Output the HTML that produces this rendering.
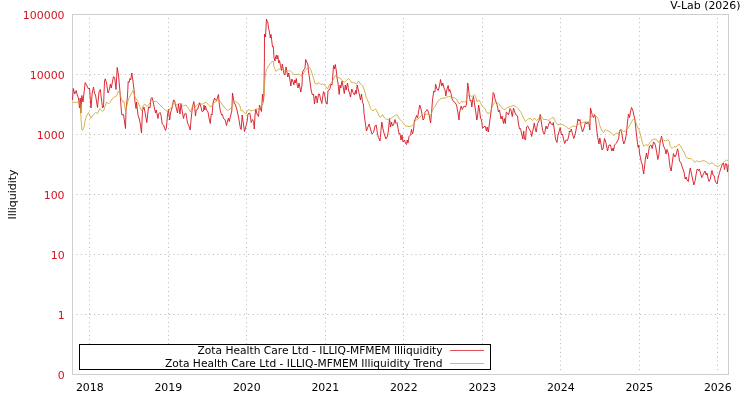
<!DOCTYPE html>
<html lang="en"><head><meta charset="utf-8"><title>V-Lab Illiquidity</title>
<style>
html,body{margin:0;padding:0;background:#fff;}
svg{display:block;}
text{font-family:"DejaVu Sans","Liberation Sans",sans-serif;font-size:10.95px;}
</style></head><body>
<svg width="750" height="400" viewBox="0 0 750 400">
<rect width="750" height="400" fill="#fff"/>
<g stroke="#b5b5b5" stroke-width="1" fill="none">
<line x1="89.5" y1="370.1" x2="89.5" y2="338.5" stroke-dasharray="1 3.31"/>
<line x1="89.5" y1="336.06" x2="89.5" y2="14.5" stroke-dasharray="1 3.405"/>
<line x1="168.5" y1="370.1" x2="168.5" y2="338.5" stroke-dasharray="1 3.31"/>
<line x1="168.5" y1="336.06" x2="168.5" y2="14.5" stroke-dasharray="1 3.405"/>
<line x1="246.5" y1="370.1" x2="246.5" y2="338.5" stroke-dasharray="1 3.31"/>
<line x1="246.5" y1="336.06" x2="246.5" y2="14.5" stroke-dasharray="1 3.405"/>
<line x1="325.5" y1="370.1" x2="325.5" y2="338.5" stroke-dasharray="1 3.31"/>
<line x1="325.5" y1="336.06" x2="325.5" y2="14.5" stroke-dasharray="1 3.405"/>
<line x1="403.5" y1="370.1" x2="403.5" y2="338.5" stroke-dasharray="1 3.31"/>
<line x1="403.5" y1="336.06" x2="403.5" y2="14.5" stroke-dasharray="1 3.405"/>
<line x1="482.5" y1="370.1" x2="482.5" y2="338.5" stroke-dasharray="1 3.31"/>
<line x1="482.5" y1="336.06" x2="482.5" y2="14.5" stroke-dasharray="1 3.405"/>
<line x1="560.5" y1="370.1" x2="560.5" y2="338.5" stroke-dasharray="1 3.31"/>
<line x1="560.5" y1="336.06" x2="560.5" y2="14.5" stroke-dasharray="1 3.405"/>
<line x1="639.5" y1="370.1" x2="639.5" y2="338.5" stroke-dasharray="1 3.31"/>
<line x1="639.5" y1="336.06" x2="639.5" y2="14.5" stroke-dasharray="1 3.405"/>
<line x1="717.5" y1="370.1" x2="717.5" y2="338.5" stroke-dasharray="1 3.31"/>
<line x1="717.5" y1="336.06" x2="717.5" y2="14.5" stroke-dasharray="1 3.405"/>
<line x1="72.1" y1="74.5" x2="728.5" y2="74.5" stroke-dasharray="1 3.403"/>
<line x1="72.1" y1="134.5" x2="728.5" y2="134.5" stroke-dasharray="1 3.403"/>
<line x1="72.1" y1="194.5" x2="728.5" y2="194.5" stroke-dasharray="1 3.403"/>
<line x1="72.1" y1="254.5" x2="728.5" y2="254.5" stroke-dasharray="1 3.403"/>
<line x1="72.1" y1="314.5" x2="728.5" y2="314.5" stroke-dasharray="1 3.403"/>
</g>
<rect x="72.5" y="14.5" width="656.0" height="360.0" fill="none" stroke="#cecece" stroke-width="1"/>
<polyline points="72.5,100.0 73.3,88.5 74.7,94.0 76.2,90.5 77.5,96.0 78.5,98.0 79.5,108.0 80.2,98.0 80.8,113.0 81.8,95.5 83.0,102.0 85.2,82.5 87.0,86.0 88.5,89.0 89.5,88.0 91.0,108.0 92.2,93.0 93.5,87.0 94.5,93.0 95.5,95.0 97.5,107.5 99.0,92.0 100.3,89.5 102.5,108.0 103.5,107.0 104.5,81.0 105.3,78.8 106.5,83.0 108.0,93.0 109.5,89.0 110.4,84.0 111.2,88.0 113.5,76.5 114.7,78.0 116.0,89.5 117.2,67.5 118.5,75.0 120.0,92.0 121.5,113.0 122.0,115.0 123.5,114.5 125.5,128.5 126.0,110.0 127.5,96.0 128.2,81.5 129.0,82.5 130.0,78.5 130.7,80.0 131.8,73.0 132.8,80.0 134.0,89.5 135.0,102.0 136.0,108.5 136.5,102.0 138.0,115.0 139.0,118.0 140.0,122.0 141.5,133.0 142.5,110.5 144.0,107.0 145.5,115.0 146.8,122.5 148.5,107.0 150.0,108.0 150.8,99.0 152.0,97.5 153.0,101.0 154.0,106.0 155.5,113.0 156.2,110.0 158.0,118.5 158.5,114.0 160.0,112.5 161.0,115.0 162.2,124.0 163.5,125.0 165.5,130.5 166.5,127.0 167.5,115.0 168.5,109.0 169.0,115.0 169.7,120.0 170.5,113.0 172.0,108.0 173.5,100.0 174.5,100.5 175.5,105.0 177.5,113.0 178.5,104.0 180.0,114.0 181.0,103.5 182.0,110.0 183.5,118.5 184.5,114.0 186.0,113.5 187.5,123.0 189.0,126.0 190.2,130.0 191.2,118.0 192.5,107.0 193.8,101.5 194.5,106.0 195.5,116.0 196.2,110.0 197.5,109.5 199.0,105.0 199.7,103.0 201.0,107.0 202.0,111.5 203.5,111.0 204.0,105.0 204.8,110.0 205.5,106.0 206.5,110.0 208.0,112.0 209.0,118.0 210.3,123.5 211.2,114.0 212.0,115.0 213.0,103.0 214.5,98.0 215.5,100.0 216.5,100.5 218.5,94.5 219.2,103.0 220.0,109.0 221.5,115.0 222.5,114.5 223.5,118.5 225.0,119.5 226.5,125.5 227.5,121.0 228.5,118.0 229.3,121.5 230.5,116.0 231.8,111.0 232.5,93.0 234.0,102.0 235.5,105.0 237.0,110.0 238.5,117.0 239.5,123.0 240.5,129.0 241.2,129.5 242.2,115.0 243.0,121.0 244.5,131.5 245.5,128.0 247.0,122.0 248.0,114.0 249.0,113.0 250.0,113.5 251.2,122.5 252.5,119.5 253.5,121.5 254.3,129.0 255.0,115.0 255.8,109.0 257.0,114.0 258.5,116.5 259.5,105.0 260.5,109.0 261.5,111.5 262.5,94.0 263.3,102.0 263.9,95.0 264.4,60.0 264.5,34.0 265.5,37.0 266.0,27.0 266.5,19.0 267.2,21.5 267.8,22.0 268.5,28.0 269.5,32.0 270.3,38.0 271.0,34.5 271.8,41.0 272.5,47.0 273.3,46.5 273.7,52.0 274.0,58.0 275.0,61.0 275.7,56.5 276.5,55.0 277.0,59.0 277.8,55.5 278.8,63.0 279.5,60.5 280.5,65.5 281.5,70.5 282.3,64.0 283.0,68.0 284.0,74.0 285.0,75.0 286.0,67.0 286.8,71.0 287.8,77.0 288.8,73.0 289.8,79.0 290.8,86.0 291.8,79.0 292.8,81.0 293.8,85.0 294.8,80.0 295.5,83.0 296.3,78.5 297.0,84.0 298.0,88.0 299.0,83.0 300.8,92.0 302.0,85.0 302.5,72.0 304.0,69.5 305.0,68.0 305.7,59.5 306.8,62.0 308.0,65.0 308.5,72.0 309.5,78.0 310.5,86.0 311.5,92.0 312.5,95.0 313.5,94.0 314.5,104.0 315.5,96.0 316.5,96.5 317.2,103.0 318.5,94.0 319.5,94.0 320.5,99.0 321.8,103.5 323.5,91.5 324.5,94.0 325.5,100.0 326.5,104.0 327.2,104.0 328.0,90.5 329.2,90.0 330.0,88.5 331.0,84.0 332.0,85.0 332.8,76.0 333.3,68.0 333.7,65.5 334.5,69.0 335.3,64.5 336.5,72.0 337.0,78.0 338.0,83.0 339.2,94.5 340.0,85.0 340.8,88.0 342.0,81.0 343.0,86.0 344.3,93.5 345.3,85.0 346.2,90.0 347.5,83.0 348.5,90.0 349.5,93.0 350.5,97.0 351.8,89.0 353.0,92.5 354.5,95.0 355.5,90.5 356.2,94.0 357.2,85.0 358.5,91.0 359.5,95.0 360.5,100.0 361.5,94.0 362.5,102.0 363.5,105.0 364.0,113.0 365.0,121.0 366.5,131.0 367.5,128.0 369.2,124.0 370.5,129.0 372.0,134.0 373.5,132.5 375.0,126.0 376.2,125.0 377.5,134.0 378.5,137.5 380.0,141.0 381.0,130.0 381.8,122.0 383.0,129.0 384.5,135.0 386.0,139.0 387.5,136.0 388.5,130.0 389.5,118.5 390.5,127.0 391.5,122.0 392.5,126.0 393.5,125.0 395.0,119.5 396.0,123.5 397.0,122.5 398.0,128.0 399.0,134.0 400.0,133.5 401.0,140.0 402.0,135.0 403.0,142.0 404.5,140.0 405.5,143.0 406.5,144.5 407.2,140.0 408.0,143.0 409.0,136.5 410.5,135.0 411.5,129.5 412.5,134.0 413.5,130.0 414.5,120.0 415.5,119.0 416.5,115.5 417.6,117.8 418.5,112.0 419.7,105.0 421.0,109.0 422.0,114.0 423.0,120.0 424.0,119.0 425.0,112.5 426.0,111.0 427.2,109.5 428.5,112.0 429.5,117.0 430.6,123.0 431.5,113.5 432.5,100.0 433.8,91.0 435.0,92.0 435.5,84.0 437.0,89.0 438.2,90.5 439.5,86.0 440.5,79.5 441.8,86.0 442.8,83.0 444.0,88.0 445.0,90.0 445.8,96.0 447.0,89.0 448.2,85.5 449.0,91.5 449.8,89.5 451.0,93.5 452.0,99.0 453.5,101.5 455.0,102.5 456.5,105.0 458.0,113.0 459.0,120.0 459.5,113.0 461.2,106.0 462.2,109.5 464.0,106.0 465.5,107.0 466.5,104.0 467.0,95.0 467.7,83.0 468.5,88.0 469.2,95.0 470.2,101.0 471.0,100.0 471.8,107.0 472.7,99.5 473.5,96.5 474.5,104.0 475.5,110.0 476.8,120.0 477.5,117.0 478.6,105.0 479.5,110.0 480.5,118.0 481.5,120.0 482.5,128.0 484.0,127.0 485.0,126.0 486.5,131.0 487.2,127.0 488.3,132.0 489.5,123.0 490.5,116.0 491.5,108.0 492.5,100.0 493.2,92.5 494.2,94.0 495.0,99.0 496.0,102.0 497.0,104.5 498.5,112.0 499.5,110.0 501.0,119.0 502.0,116.0 503.5,123.5 504.3,118.5 505.3,123.5 506.3,112.0 507.5,113.0 508.5,115.0 510.0,108.5 511.0,110.0 512.3,116.5 513.5,108.0 514.7,112.0 516.0,115.0 517.5,116.0 518.5,124.0 519.5,129.0 520.5,128.5 521.5,133.0 522.8,139.0 523.7,131.0 524.5,139.0 525.5,140.0 526.5,127.0 527.8,126.0 529.0,129.0 530.0,130.0 530.8,132.0 531.7,136.5 533.0,130.0 534.3,123.0 535.3,129.0 536.2,132.0 537.5,123.5 539.0,121.0 540.2,114.5 541.2,121.0 542.2,128.0 543.5,133.5 544.5,134.0 546.0,126.0 547.2,129.0 548.5,125.0 549.8,121.5 551.2,124.0 552.5,125.0 553.3,122.5 554.5,131.0 555.5,139.0 557.0,142.5 558.0,135.0 559.0,132.0 560.2,127.5 561.5,135.0 562.5,134.0 563.5,139.0 564.7,143.5 566.0,140.0 567.5,140.5 568.5,137.0 569.5,131.0 570.5,132.0 571.2,129.0 572.5,134.0 573.8,138.5 575.0,135.0 576.2,129.0 577.0,125.0 578.0,119.0 579.0,121.0 580.0,119.5 581.0,126.0 582.5,132.0 584.0,128.0 585.5,122.0 586.8,124.0 588.0,122.0 589.0,124.0 589.8,130.0 590.5,108.0 591.5,112.0 592.5,116.0 593.5,117.5 594.5,114.5 595.5,118.0 596.5,128.0 597.8,138.0 599.0,144.0 599.8,138.0 600.8,143.0 602.0,150.0 603.0,149.0 604.5,138.5 606.0,143.0 607.5,151.0 609.0,145.0 610.5,145.0 611.8,151.0 613.0,148.0 613.5,151.0 614.5,145.0 616.0,143.5 617.5,141.0 618.8,138.0 619.5,131.0 620.6,129.5 621.8,133.0 622.8,140.0 623.8,144.0 625.0,141.0 626.2,135.0 627.5,122.0 628.5,114.0 629.5,117.5 630.5,112.0 631.5,107.5 632.8,110.0 633.8,115.0 634.8,119.0 635.5,125.0 636.5,135.0 637.5,143.0 638.2,147.5 638.8,145.0 639.5,153.0 640.5,158.0 641.5,163.0 642.2,164.0 643.0,170.0 643.7,174.0 644.5,167.0 645.5,158.0 646.5,153.0 647.5,159.0 648.5,152.0 649.5,146.0 651.0,145.0 652.2,148.5 653.5,142.0 654.7,143.0 655.8,147.5 656.8,153.0 657.8,159.5 659.0,154.0 660.0,143.0 661.5,136.0 662.5,141.0 663.5,146.0 665.0,149.0 666.0,154.0 667.0,149.5 668.5,154.0 669.5,163.0 670.0,167.0 671.2,171.0 672.2,163.0 673.5,153.5 674.8,157.0 676.0,155.0 677.6,148.8 678.4,152.5 679.5,161.0 681.0,163.0 682.5,168.0 684.0,172.0 685.2,179.0 686.2,177.0 687.0,180.0 688.3,181.5 689.5,172.0 690.3,168.0 691.5,174.0 692.8,180.0 693.8,185.0 695.0,181.0 696.0,175.0 697.2,169.0 698.5,170.5 699.3,169.0 700.5,173.0 701.8,177.5 703.0,175.0 705.0,171.0 706.2,175.0 707.0,173.0 708.0,178.0 709.0,181.5 710.3,179.0 711.5,172.0 712.0,170.5 713.0,175.0 714.0,175.5 715.5,182.0 717.2,184.0 718.3,177.0 719.5,172.5 721.0,168.0 722.5,164.0 723.5,163.0 724.5,169.5 725.5,163.5 726.5,164.0 727.5,172.0 728.2,164.5" fill="none" stroke="#d61623" stroke-width="0.9" stroke-linejoin="round"/>
<polyline points="72.5,102.3 79.5,102.3 80.0,103.0 80.8,115.0 81.8,129.5 82.5,130.5 84.0,127.0 85.0,121.0 86.5,116.0 88.5,112.5 90.0,116.0 91.0,118.5 93.0,115.0 95.5,112.5 97.5,113.5 100.0,108.5 102.5,111.5 104.0,110.0 106.5,102.0 108.5,104.0 110.0,102.5 112.0,99.0 114.5,97.0 116.5,96.0 118.5,91.0 120.0,93.0 121.0,98.0 123.0,102.0 124.0,101.5 125.5,111.0 126.5,107.0 128.0,101.0 130.0,96.0 133.0,90.5 135.0,97.0 138.0,102.0 140.0,107.0 141.5,110.5 143.5,105.0 145.0,104.0 146.5,106.5 149.0,104.5 151.5,100.0 153.0,101.5 156.5,101.5 160.0,105.0 163.5,108.5 167.0,111.5 170.0,109.0 172.0,106.5 174.5,102.0 176.5,105.0 178.5,103.5 181.0,104.0 183.5,106.0 186.0,105.0 188.5,108.5 190.5,112.0 192.5,106.5 195.0,107.0 197.5,105.0 199.5,102.5 202.0,104.5 204.0,103.0 206.5,102.5 209.0,105.5 211.0,107.0 213.0,104.0 215.0,102.0 219.0,99.5 220.5,102.0 224.0,107.0 227.5,110.5 230.0,109.0 232.0,107.0 233.5,102.5 235.5,101.5 238.0,103.0 240.0,106.0 241.2,111.0 242.5,110.5 244.0,112.5 245.8,114.0 247.5,110.5 249.0,109.5 251.0,111.0 252.5,110.5 254.5,110.0 256.0,109.0 258.5,109.0 260.5,106.5 262.5,105.0 263.5,102.0 264.1,92.0 264.5,85.0 265.0,78.0 265.8,72.5 266.5,69.5 268.5,66.0 271.0,62.5 273.2,61.0 274.0,67.0 276.0,71.5 278.5,69.0 281.5,69.0 284.0,71.0 286.5,70.5 288.5,71.0 290.0,70.5 292.0,72.5 294.0,74.5 296.5,74.5 299.0,74.0 302.0,76.5 304.0,72.5 306.0,69.5 308.0,68.0 309.7,67.5 311.0,70.0 312.5,75.0 314.0,80.0 315.0,83.5 317.0,84.0 319.0,82.5 321.0,84.5 323.0,84.0 325.0,85.5 327.5,89.0 329.5,84.5 331.5,83.0 334.0,78.0 335.7,75.0 338.0,77.5 340.0,78.0 342.0,80.5 344.5,82.5 346.5,80.5 348.5,78.5 350.0,80.0 352.0,83.0 354.0,82.5 356.5,84.0 358.5,81.0 360.5,84.0 362.5,85.5 364.0,89.0 365.0,93.0 366.5,98.0 369.0,103.5 370.5,108.5 373.0,111.0 375.5,109.0 377.5,112.0 379.0,116.0 380.5,117.5 382.5,114.5 384.5,118.0 386.5,119.5 390.0,119.0 393.0,117.0 395.5,115.0 397.2,115.0 399.5,119.0 402.0,121.5 404.5,124.5 406.0,126.0 409.0,126.5 411.5,126.0 413.5,124.5 415.5,120.5 418.0,119.0 420.0,117.0 421.5,115.0 423.5,116.5 426.0,114.5 428.0,114.0 430.5,116.0 432.5,110.5 434.0,107.5 435.0,106.5 438.0,101.0 441.0,98.5 445.0,98.0 448.5,96.3 451.0,97.0 454.0,97.5 456.5,99.0 459.0,104.0 461.5,101.5 464.5,102.0 466.5,100.5 468.0,95.0 470.0,95.5 472.0,96.5 474.5,94.5 475.5,96.0 477.0,102.0 479.0,100.0 480.5,102.5 482.0,106.0 484.5,108.0 487.0,113.0 489.0,113.5 490.5,111.5 492.5,106.0 494.5,102.5 496.0,101.8 498.5,103.5 500.5,106.0 503.0,109.0 505.0,109.5 507.5,107.5 510.5,106.5 513.5,105.5 516.0,106.5 518.5,109.0 521.0,112.5 523.5,118.0 525.5,121.5 527.5,119.5 530.0,118.0 532.5,120.5 534.5,118.0 536.5,120.5 539.0,118.5 541.0,116.0 543.5,119.5 546.5,119.5 549.0,120.5 551.5,118.0 553.5,117.5 555.5,122.0 558.0,125.0 560.5,124.0 563.5,125.0 566.5,127.0 569.0,129.0 571.5,126.5 573.0,126.0 575.5,126.5 578.0,124.5 581.0,123.0 585.0,122.0 589.0,122.0 590.5,118.0 592.5,115.5 595.0,115.0 597.0,117.0 598.5,119.5 599.5,124.5 600.0,126.0 602.0,131.0 603.5,132.5 605.5,129.5 608.0,131.0 610.5,132.0 613.5,135.5 616.0,133.5 618.5,133.0 621.0,129.5 623.5,131.5 626.0,131.0 628.0,128.0 630.5,124.0 632.5,120.0 634.5,119.0 636.0,122.5 637.5,127.0 639.5,131.0 641.0,137.0 642.5,143.0 644.0,146.5 646.0,144.5 648.0,145.5 650.0,142.5 652.5,139.5 655.0,139.0 657.0,140.0 658.5,142.5 660.5,139.5 662.0,138.5 664.0,140.5 666.0,141.0 668.0,139.5 669.5,142.0 670.0,146.0 670.5,146.5 672.0,148.5 674.0,146.5 676.0,147.0 677.5,145.0 679.0,144.0 680.5,146.0 682.5,149.5 684.5,153.0 686.0,157.2 688.0,158.5 691.0,158.5 693.0,160.5 695.0,162.3 697.0,160.6 699.0,162.0 701.5,161.0 704.0,160.6 706.5,162.0 709.5,164.0 712.0,162.7 714.5,164.8 717.0,166.5 720.0,165.5 722.5,163.0 724.5,161.5 726.5,160.0 728.2,161.0" fill="none" stroke="#caa22a" stroke-width="0.8" stroke-linejoin="round"/>
<g fill="#d41422" text-anchor="end">
<text x="64.6" y="18.9">100000</text>
<text x="64.6" y="78.9">10000</text>
<text x="64.6" y="138.9">1000</text>
<text x="64.6" y="198.9">100</text>
<text x="64.6" y="258.9">10</text>
<text x="64.6" y="318.9">1</text>
<text x="64.6" y="378.9">0</text>
</g>
<g fill="#000" text-anchor="middle">
<text x="89.8" y="390.6">2018</text>
<text x="168.3" y="390.6">2019</text>
<text x="246.8" y="390.6">2020</text>
<text x="325.3" y="390.6">2021</text>
<text x="403.8" y="390.6">2022</text>
<text x="482.3" y="390.6">2023</text>
<text x="560.8" y="390.6">2024</text>
<text x="639.3" y="390.6">2025</text>
<text x="717.8" y="390.6">2026</text>
</g>
<text transform="translate(15.5,194.5) rotate(-90)" text-anchor="middle" fill="#000">Illiquidity</text>
<text x="740.5" y="8.6" text-anchor="end" fill="#000">V-Lab (2026)</text>
<rect x="79.5" y="344.5" width="411" height="25" fill="#fff" stroke="#000" stroke-width="1"/>
<text x="442.6" y="354.4" text-anchor="end" fill="#000" style="font-size:10.67px">Zota Health Care Ltd - ILLIQ-MFMEM Illiquidity</text>
<text x="442.6" y="366.9" text-anchor="end" fill="#000" style="font-size:10.67px">Zota Health Care Ltd - ILLIQ-MFMEM Illiquidity Trend</text>
<line x1="450" y1="350.5" x2="484" y2="350.5" stroke="#d61623" stroke-width="0.75"/>
<line x1="450" y1="363.5" x2="484" y2="363.5" stroke="#caa22a" stroke-width="0.75"/>
</svg>
</body></html>
